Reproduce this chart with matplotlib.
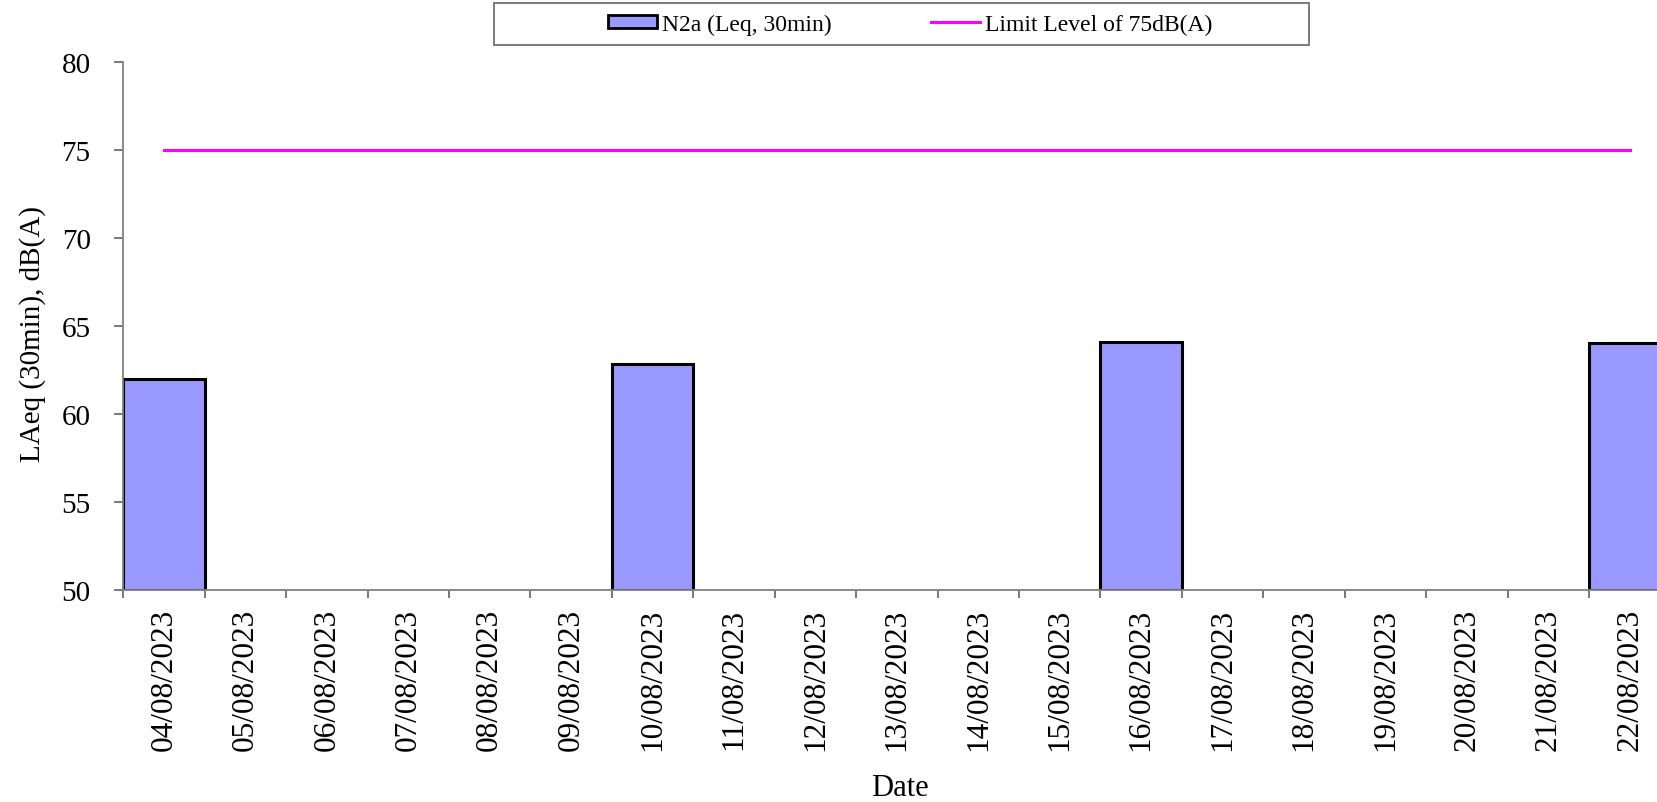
""" noise monitoring chart - N2a LAeq 30min vs limit """

import numpy as np
import matplotlib
matplotlib.use("Agg")
import matplotlib.pyplot as plt
from matplotlib.patches import Rectangle, Patch
from matplotlib.lines import Line2D

# data
dates = ["04/08/2023", "05/08/2023", "06/08/2023", "07/08/2023", "08/08/2023",
         "09/08/2023", "10/08/2023", "11/08/2023", "12/08/2023", "13/08/2023",
         "14/08/2023", "15/08/2023", "16/08/2023", "17/08/2023", "18/08/2023",
         "19/08/2023", "20/08/2023", "21/08/2023", "22/08/2023"]
n2a_leq = [62.0, np.nan, np.nan, np.nan, np.nan, np.nan, 62.8, np.nan, np.nan, np.nan,
           np.nan, np.nan, 64.1, np.nan, np.nan, np.nan, np.nan, np.nan, 64.0]
limit_level = 75
y_min, y_max = 50, 80

plt.rcParams['font.family'] = ['Liberation Serif', 'DejaVu Serif']

W, H = 1658, 803
fig = plt.figure(figsize=(W / 100, H / 100), dpi=100)
# axes run a bit past the right edge, as in the original (cropped) chart
ax = fig.add_axes([123.3 / W, (H - 590.7) / H, 1547.1 / W, 528.0 / H])

x = np.arange(len(dates))
vals = np.array(n2a_leq)
ok = ~np.isnan(vals)
ax.bar(x[ok], vals[ok] - y_min, bottom=y_min, width=1.0, color="#9999FF",
       edgecolor="black", linewidth=2.2, zorder=2)
ax.plot([x[0], x[-1]], [limit_level, limit_level], color="#FF00FF", lw=2.2, zorder=3)

ax.set_xlim(-0.5, len(dates) - 0.5)
ax.set_ylim(y_min, y_max)
ax.set_yticks(np.arange(y_min, y_max + 1, 5))

# ticks between categories, labels at category centres
ax.set_xticks(np.arange(-0.5, len(dates)), labels=[])
ax.set_xticks(x, labels=dates, minor=True)
ax.tick_params(axis="x", which="major", direction="out", length=6, width=1.2, color="#606060")
ax.tick_params(axis="x", which="minor", length=0, pad=13, labelsize=22.5, labelrotation=90)
ax.tick_params(axis="y", direction="out", length=6.5, width=1.2, color="#606060",
               pad=17, labelsize=21)

for s in ["top", "right"]:
    ax.spines[s].set_visible(False)
for s in ["left", "bottom"]:
    ax.spines[s].set_color("#808080")
    ax.spines[s].set_linewidth(1.3)

ax.set_xlabel("Date", fontsize=22, va="top")
ax.xaxis.set_label_coords((900 - 123.3) / 1547.1, (590.7 - 774) / 528.0)
ax.set_ylabel("LAeq (30min), dB(A)", fontsize=21)
ax.yaxis.set_label_coords((46 - 123.3) / 1547.1, 0.486)

# legend box across the top
fig.patches.append(Rectangle((494 / W, (H - 45.7) / H), (1309 - 494) / W, 41.4 / H,
                             transform=fig.transFigure, facecolor="white",
                             edgecolor="#707070", linewidth=1.3))
handles = [Patch(facecolor="#9999FF", edgecolor="black", linewidth=2),
           Line2D([], [], color="#FF00FF", lw=2.2)]
fig.legend(handles, ["N2a (Leq, 30min)", "Limit Level of 75dB(A)"], ncol=2,
           loc="center", bbox_to_anchor=(910 / W, (H - 25) / H), frameon=False,
           fontsize=17, handlelength=2.1, handleheight=0.45, handletextpad=0.2,
           columnspacing=4.2)

fig.savefig("out.png", dpi=100)
